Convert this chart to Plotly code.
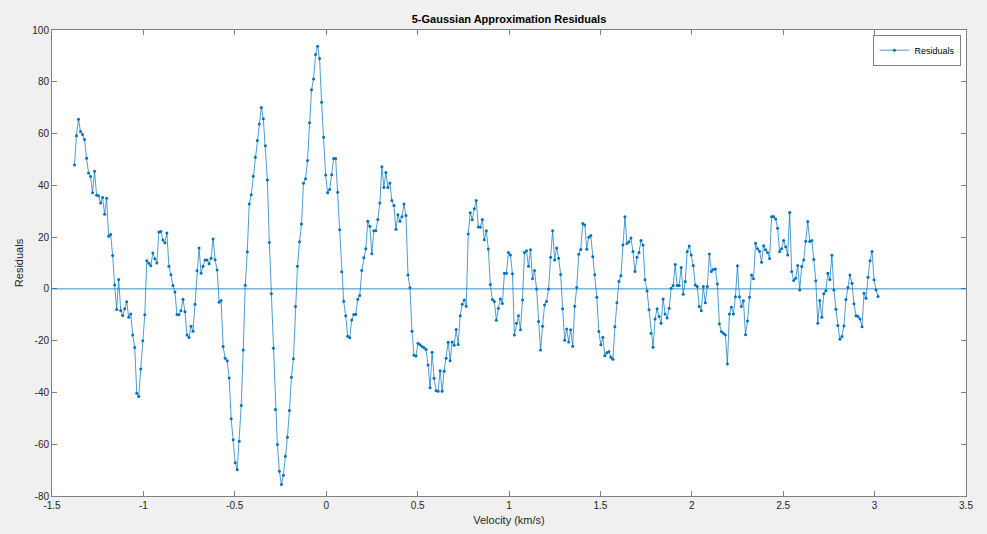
import plotly.graph_objects as go

# Velocity channel grid (km/s)
v_start = -1.377
v_step = 0.01099

# Fit residuals per channel
residuals = [
    47.9, 59.2, 65.5, 60.8, 59.6, 57.7, 50.5, 44.8, 43.4, 37.1, 45.4, 36.2, 36.0, 33.2, 35.3, 28.8,
    35.0, 20.3, 21.0, 12.9, 1.5, -8.0, 3.6, -8.3, -10.3, -7.7, -5.0, -11.0, -9.7, -17.8, -22.6, -40.3,
    -41.6, -30.9, -20.0, -10.0, 10.9, 9.9, 8.9, 13.9, 11.6, 10.0, 22.0, 22.2, 18.9, 17.8,
    21.6, 8.7, 5.5, 1.3, -1.2, -9.9, -10.0, -8.4, -4.0, -8.8, -17.8, -18.8, -14.4, -16.4, -5.9, 7.0,
    15.8, 6.0, 8.7, 11.2, 11.2, 9.7, 11.8, 19.3, 11.3, 7.3, -5.2, -4.5, -22.3, -26.8, -27.8, -34.4,
    -50.2, -58.3, -67.2, -69.9, -58.9, -45.0, -23.6, 1.4, 14.3, 32.8, 36.4, 43.5,
    50.8, 57.3, 63.7, 70.1, 65.7, 55.3, 42.1, 17.9, -1.9, -22.9, -46.6, -60.1, -70.4, -75.6, -72.0,
    -64.6, -57.3, -47.0, -34.1, -27.0, -6.8, 8.7, 18.2, 25.1, 40.8, 42.5, 49.6, 64.2, 76.9, 81.1,
    90.5, 93.7, 89.0, 72.1, 58.6, 44.0, 37.1, 38.4, 44.1, 50.4, 50.4, 37.3, 22.8, 6.6, -4.8, -10.4,
    -18.3, -18.9, -12.0, -9.9,
    -9.9, -4.0, -2.6, 7.1, 12.0, 15.5, 26.1, 24.2, 13.6, 22.5, 22.5, 26.8, 33.2, 47.2, 39.2, 45.0,
    39.2, 40.9, 34.1, 32.2, 23.0, 28.6, 26.1, 27.9, 32.8, 28.3, 5.4, 0.4, -16.4, -25.6, -25.9, -21.0,
    -21.6, -22.3, -22.7, -23.4, -29.4, -38.2, -24.5, -34.5, -39.3, -39.5, -31.6, -39.5, -31.8,
    -26.8, -20.6, -27.8, -20.5, -21.8, -15.7, -21.5, -10.4, -5.9, -4.3, -6.7, 21.2, 29.4, 26.7, 31.0,
    34.1, 23.9, 23.8, 26.8, 19.0, 22.5, 15.4, 1.7, -4.1, -4.9, -12.1, -7.5, -3.9, -5.6, 6.0, 6.0,
    14.1, 13.1, 5.8, -17.8, -13.3, -10.4, -15.8, -4.3, 14.1, 14.7, 8.7, 15.1, 3.9, 7.1, 0.0, -12.6,
    -23.6, -14.4, -6.2,
    -4.9, 0.0, 12.2, 22.5, 11.2, 15.8, 11.8, 5.6, -7.7, -19.8, -15.5, -20.5, -15.8, -22.2, -6.7, 0.5,
    13.4, 15.2, 25.3, 24.7, 15.3, 19.9, 20.6, 12.4, 5.5, -3.2, -16.5, -21.6, -18.7, -25.8, -24.7,
    -24.2, -26.4, -27.2, -14.6, -5.4, 2.9, 5.1, 17.0, 27.9, 17.5, 18.2, 19.7, 14.4, 6.7, 12.2, 14.1,
    18.7, 17.0, 3.5, -0.8, -8.1, -17.1, -22.5, -11.6, -7.7, -10.7, -13.3, -3.9, -9.7, -11.2, -7.5,
    0.2, 1.3, 9.4, 1.3, 1.3, 8.3, -2.1, 2.9, 14.4, 16.6, 13.1, 9.0, 1.5, 0.9, -6.8, -8.4, 0.9, -5.4,
    0.9, 13.5, 6.7, 7.5, 7.7, 1.9, -13.5, -16.5, -17.1, -17.8, -29.0, -9.7, -7.1, -9.7,
    -3.0, 8.9, -3.0, -6.8, -4.6, -17.7, -12.4, -3.2, 5.4, 3.9, 17.6, 15.5, 14.5, 10.3, 16.7, 15.1,
    14.1, 11.7, 27.9, 28.0, 27.0, 23.4, 14.4, 15.5, 18.7, 16.3, 13.1, 29.5, 6.7, 3.2, 4.1, 9.0, -0.4,
    8.6, 11.2, 18.4, 26.0, 18.3, 18.7, 11.4, 3.1, -13.3, -4.5, -11.0, -1.9, -0.7, 6.0,
    3.6, 13.0, -0.4, -7.9, -14.1, -19.5, -18.4, -14.3, -4.1, 0.5, 5.4, 2.2, -5.7, -10.4, -10.7,
    -11.6, -14.6, -1.7, -3.6, 4.5, 10.9, 14.4, 3.5, -0.4, -2.9,
]

velocity = [v_start + i * v_step for i in range(len(residuals))]

x_ticks = [-1.5, -1, -0.5, 0, 0.5, 1, 1.5, 2, 2.5, 3, 3.5]
x_tick_labels = ["-1.5", "-1", "-0.5", "0", "0.5", "1", "1.5", "2", "2.5", "3", "3.5"]
y_ticks = [-80, -60, -40, -20, 0, 20, 40, 60, 80, 100]
y_tick_labels = ["-80", "-60", "-40", "-20", "0", "20", "40", "60", "80", "100"]

line_color = "#0072BD"
frame_color = "#808080"
text_color = "#262626"
font_family = "Liberation Sans, Arial, sans-serif"

fig = go.Figure()
fig.add_trace(go.Scatter(
    x=velocity, y=residuals, mode="lines+markers", name="Residuals",
    line=dict(color=line_color, width=0.7),
    marker=dict(color=line_color, size=3),
))
fig.add_hline(y=0, line=dict(color=line_color, width=0.8))

axis_common = dict(
    showline=True, linecolor=frame_color, linewidth=1, mirror="ticks",
    ticks="inside", ticklen=5, tickwidth=1, tickcolor=frame_color,
    showgrid=False, zeroline=False, automargin=False,
    tickfont=dict(family=font_family, size=10, color=text_color),
)

fig.update_layout(
    width=987, height=534,
    margin=dict(l=52, r=21, t=30, b=38),
    paper_bgcolor="#f0f0f0", plot_bgcolor="white",
    font=dict(family=font_family, size=10, color=text_color),
    title=dict(
        text="<b>5-Gaussian Approximation Residuals</b>",
        x=509 / 987, xanchor="center", y=1 - 19 / 534, yanchor="middle",
        yref="container", xref="container",
        font=dict(family=font_family, size=11, color="black"),
    ),
    xaxis=dict(
        range=[-1.5, 3.5], tickvals=x_ticks, ticktext=x_tick_labels,
        title=dict(text="Velocity (km/s)", standoff=6,
                   font=dict(family=font_family, size=11, color=text_color)),
        **axis_common,
    ),
    yaxis=dict(
        range=[-80, 100], tickvals=y_ticks, ticktext=y_tick_labels,
        title=dict(text="Residuals", standoff=6,
                   font=dict(family=font_family, size=11, color=text_color)),
        **axis_common,
    ),
    legend=dict(
        x=0.995, y=0.99, xanchor="right", yanchor="top",
        bgcolor="white", bordercolor=frame_color, borderwidth=1,
        font=dict(family=font_family, size=9, color="black"),
        itemwidth=30, tracegroupgap=0,
    ),
    showlegend=True,
)

fig.write_html("out.html")
